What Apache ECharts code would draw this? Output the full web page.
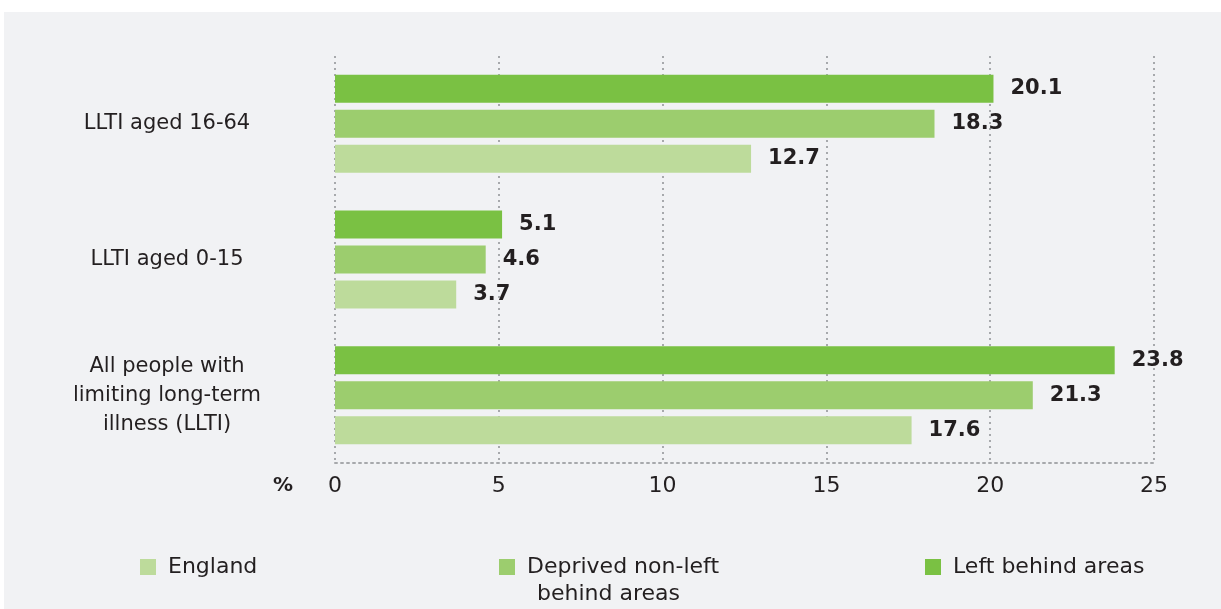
<!DOCTYPE html>
<html>
<head>
<meta charset="utf-8">
<script src="https://cdn.jsdelivr.net/npm/echarts@6/dist/echarts.min.js"></script>
<style>
  html, body { margin: 0; padding: 0; background: #ffffff; }
  #panel { position: absolute; left: 4px; top: 12px; right: 0; bottom: 0; background: #f1f2f4; }
  #chart { position: absolute; left: 0; top: 0; width: 1221px; height: 609px; }
</style>
</head>
<body>
<div id="panel"></div>
<div id="chart"></div>
<script>
// categories, bottom to top
var categories = ['All people with\nlimiting long-term\nillness (LLTI)', 'LLTI aged 0-15', 'LLTI aged 16-64'];
var englandValues = [17.6, 3.7, 12.7];
var deprivedValues = [21.3, 4.6, 18.3];
var leftBehindValues = [23.8, 5.1, 20.1];
var seriesNames = ['England', 'Deprived non-left behind areas', 'Left behind areas'];
var xTicks = [0, 5, 10, 15, 20, 25];

var textColor = '#231f20';
var gridColor = '#a7a9ac';
var font = 'DejaVu Sans';

var chartDom = document.getElementById('chart');
var myChart = echarts.init(chartDom);

function barSeries(name, values, color) {
    return {
        name: name,
        type: 'bar',
        data: values,
        barWidth: 28,
        barGap: '25%',
        itemStyle: { color: color },
        label: {
            show: true,
            position: 'right',
            distance: 17,
            fontFamily: font,
            fontSize: 21,
            fontWeight: 'bold',
            color: textColor
        }
    };
}

function oneLegend(name, left, text) {
    return {
        data: [name],
        left: left,
        top: 556,
        padding: 0,
        icon: 'rect',
        itemWidth: 16,
        itemHeight: 16,
        selectedMode: false,
        formatter: function () { return text; },
        textStyle: { fontFamily: font, fontSize: 22, color: textColor, padding: [0, 0, 0, 7] }
    };
}

var option = {
    animation: false,
    backgroundColor: 'transparent',
    title: {
        text: '%',
        left: 268,
        top: 471,
        textStyle: { fontFamily: font, fontSize: 20, fontWeight: 'bold', color: textColor }
    },
    grid: { left: 335, right: 67, top: 56, bottom: 146 },
    xAxis: {
        type: 'value',
        min: xTicks[0],
        max: xTicks[xTicks.length - 1],
        interval: 5,
        axisLine: { show: true, lineStyle: { color: gridColor, width: 2, type: [2, 4] } },
        axisTick: { show: false },
        axisLabel: { margin: 12, fontFamily: font, fontSize: 22, color: textColor },
        splitLine: { show: true, lineStyle: { color: gridColor, width: 2, type: [2, 4] } }
    },
    yAxis: {
        type: 'category',
        data: categories,
        axisLine: { show: false },
        axisTick: { show: false },
        axisLabel: {
            margin: 168,
            align: 'center',
            fontFamily: font,
            fontSize: 21,
            lineHeight: 29,
            color: textColor
        }
    },
    legend: [
        oneLegend(seriesNames[0], 140, 'England'),
        oneLegend(seriesNames[1], 499, 'Deprived non-left'),
        oneLegend(seriesNames[2], 925, 'Left behind areas')
    ],
    graphic: [{
        type: 'text',
        left: 537,
        top: 583,
        style: { text: 'behind areas', font: '22px "DejaVu Sans"', fill: textColor }
    }],
    // first series sits at the top of each group
    series: [
        barSeries(seriesNames[2], leftBehindValues, '#7ac143'),
        barSeries(seriesNames[1], deprivedValues, '#9ccd6e'),
        barSeries(seriesNames[0], englandValues, '#bddb9b')
    ]
};

option && myChart.setOption(option);
</script>
</body>
</html>
